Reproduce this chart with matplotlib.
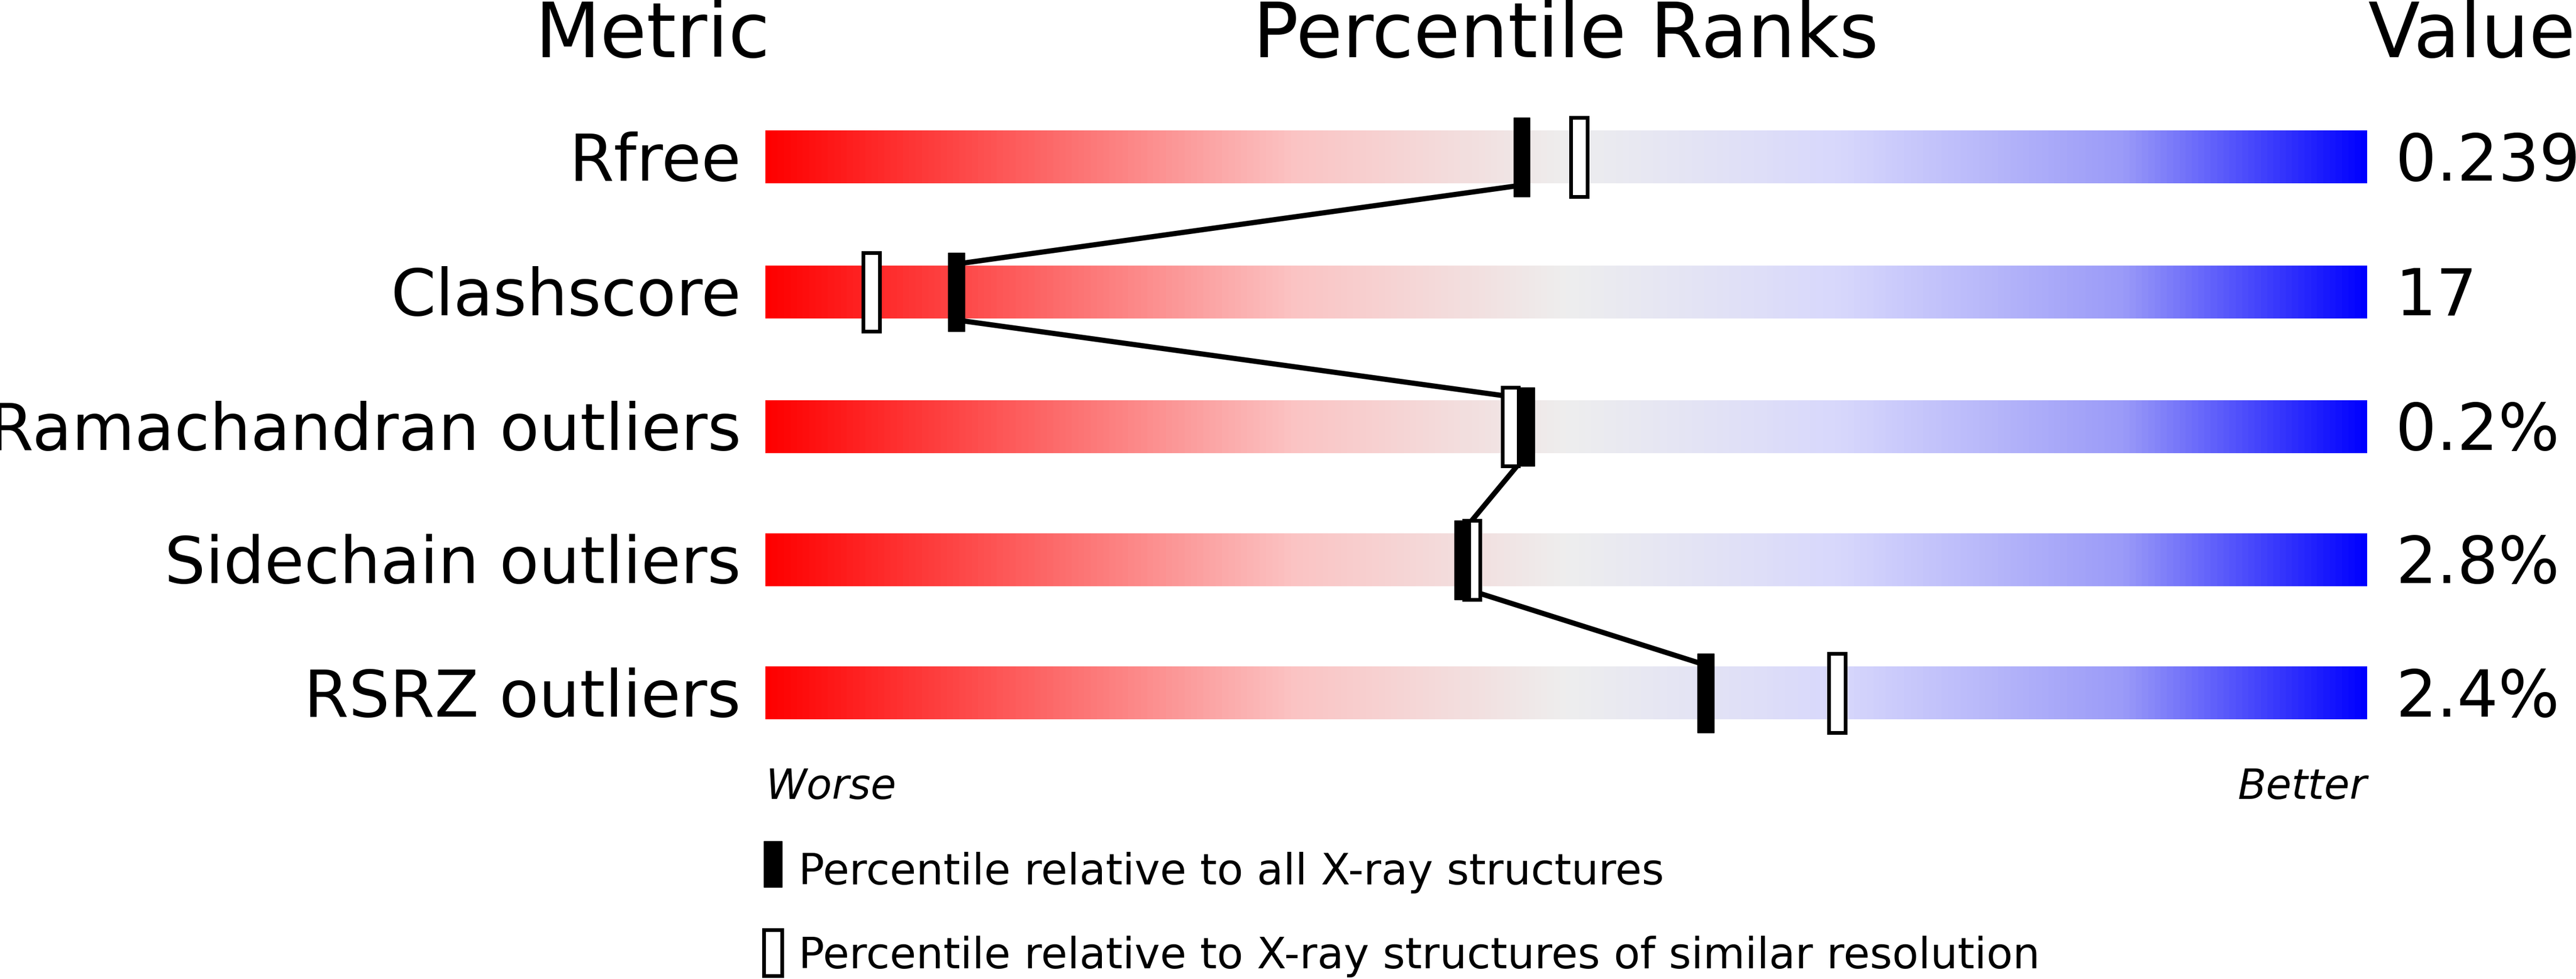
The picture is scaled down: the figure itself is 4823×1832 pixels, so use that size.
import matplotlib
matplotlib.use("Agg")
import matplotlib.pyplot as plt
import numpy as np
from matplotlib.colors import LinearSegmentedColormap
from matplotlib.patches import Rectangle

metrics = ["Rfree", "Clashscore", "Ramachandran outliers", "Sidechain outliers", "RSRZ outliers"]
values = ["0.239", "17", "0.2%", "2.8%", "2.4%"]
pct_all = [47.2, 11.9, 47.5, 43.5, 58.7]
pct_similar = [50.8, 6.6, 46.5, 44.1, 66.9]

# layout in reference-image pixel units (1568 x 596)
W, H = 1568, 596
X0, X1 = 466, 1441
ROW_Y = [96, 178, 260, 341, 422]
BAR_H = 32
MK_W, MK_H = 10, 48

cmap = LinearSegmentedColormap.from_list("wb", [
    (0.0, "#ff0000"), (0.33, "#fbc4c4"), (0.5, "#eeeeee"),
    (0.67, "#d8d8fc"), (0.85, "#9a9af8"), (1.0, "#0000ff")])

fig = plt.figure(figsize=(48.23, 18.33), dpi=100)
ax = fig.add_axes([0, 0, 1, 1])
ax.set_xlim(0, W)
ax.set_ylim(H, 0)
ax.axis("off")

grad = np.linspace(0, 1, 512)[None, :]
for y in ROW_Y:
    ax.imshow(grad, cmap=cmap, aspect="auto",
              extent=(X0, X1, y + BAR_H / 2, y - BAR_H / 2), zorder=1)

def px(p):
    return X0 + p / 100 * (X1 - X0)

# connecting line between filled markers
for i in range(len(ROW_Y) - 1):
    ax.plot([px(pct_all[i]), px(pct_all[i + 1])],
            [ROW_Y[i] + MK_H / 2 - 7, ROW_Y[i + 1] - MK_H / 2 + 7],
            color="black", lw=7, zorder=2)

for i, y in enumerate(ROW_Y):
    ax.add_patch(Rectangle((px(pct_similar[i]) - MK_W / 2, y - MK_H / 2), MK_W, MK_H,
                           facecolor="white", edgecolor="black", lw=5, zorder=3))
    ax.add_patch(Rectangle((px(pct_all[i]) - MK_W / 2, y - MK_H / 2), MK_W, MK_H,
                           facecolor="black", edgecolor="black", lw=1, zorder=4))
    ax.text(451, y + 3, metrics[i], ha="right", va="center", fontsize=87)
    ax.text(1458, y + 3, values[i], ha="left", va="center", fontsize=87)

ax.text(397, 22, "Metric", ha="center", va="center", fontsize=102)
ax.text(953, 22, "Percentile Ranks", ha="center", va="center", fontsize=102)
ax.text(1568, 22, "Value", ha="right", va="center", fontsize=102)
ax.text(X0, 479, "Worse", ha="left", va="center", fontsize=56, style="italic")
ax.text(X1, 479, "Better", ha="right", va="center", fontsize=56, style="italic")

ax.add_patch(Rectangle((465, 512), 11, 28, facecolor="black", edgecolor="black", lw=1))
ax.add_patch(Rectangle((465, 566), 11, 28, facecolor="white", edgecolor="black", lw=5))
ax.text(486, 531, "Percentile relative to all X-ray structures", ha="left", va="center", fontsize=58)
ax.text(486, 582, "Percentile relative to X-ray structures of similar resolution",
        ha="left", va="center", fontsize=58)

fig.savefig("out.png", dpi=100)
